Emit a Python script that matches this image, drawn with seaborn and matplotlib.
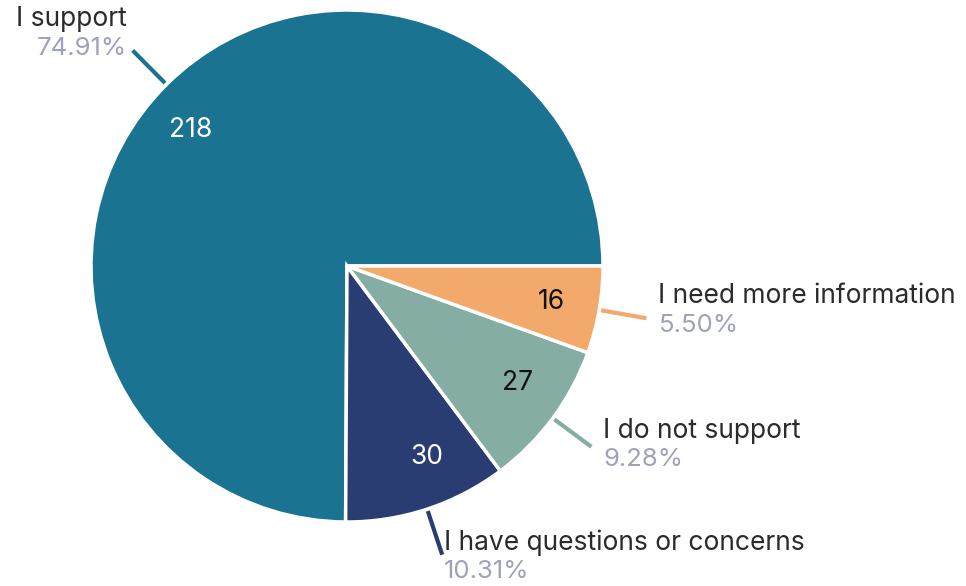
"""Survey response pie chart."""

import numpy as np
import matplotlib

matplotlib.use("Agg")

import matplotlib.pyplot as plt
import seaborn as sns

categories = [
    "I support",
    "I have questions or concerns",
    "I do not support",
    "I need more information",
]
counts = [218, 30, 27, 16]
percent_labels = ["74.91%", "10.31%", "9.28%", "5.50%"]
slice_colors = ["#1a7391", "#2a3d73", "#86ada3", "#f2a96b"]
count_colors = ["white", "white", "#111111", "#111111"]

sns.set_theme(style="white")
plt.rcParams["font.family"] = ["Inter", "DejaVu Sans"]

W, H = 966, 586
fig = plt.figure(figsize=(W / 100, H / 100), dpi=100)
ax = fig.add_axes([0, 0, 1, 1])

cx, cy, radius = 347, H - 266, 256
total = sum(counts)

wedges, _, autotexts = ax.pie(
    counts,
    colors=slice_colors,
    startangle=0,
    counterclock=True,
    radius=radius,
    center=(cx, cy),
    autopct=lambda p: f"{round(p * total / 100)}",
    pctdistance=0.81,
    wedgeprops={"edgecolor": "white", "linewidth": 2.5},
    textprops={"fontsize": 19},
)

# nudge the count labels a little around the circle, as in the original
count_shift = [4, 4.5, 2, 0]
for w, txt, col, shift in zip(wedges, autotexts, count_colors, count_shift):
    theta = np.deg2rad((w.theta1 + w.theta2) / 2 + shift)
    txt.set_position((cx + 0.81 * radius * np.cos(theta), cy + 0.81 * radius * np.sin(theta)))
    txt.set_color(col)

# leader lines + outside labels
label_dx = [-6, 2, 12, 12]
label_dy = [-16, 3, -1, -7]
for w, name, pct, dx, dy in zip(wedges, categories, percent_labels, label_dx, label_dy):
    theta = np.deg2rad((w.theta1 + w.theta2) / 2)
    x0, y0 = cx + (radius + 2) * np.cos(theta), cy + (radius + 2) * np.sin(theta)
    x1, y1 = cx + (radius + 48) * np.cos(theta), cy + (radius + 48) * np.sin(theta)
    ax.plot([x0, x1], [y0, y1], color=w.get_facecolor(), linewidth=3, solid_capstyle="butt")
    ha = "left" if np.cos(theta) > 0 else "right"
    tx = x1 + dx
    ymid = y1 - dy
    ax.text(tx, ymid + 15, name, ha=ha, va="center", fontsize=19, color="#2b2b2b")
    ax.text(tx, ymid - 14, pct, ha=ha, va="center", fontsize=18.5, color="#9fa2b8")

ax.set_xlim(0, W)
ax.set_ylim(0, H)
ax.set_aspect("equal")
ax.axis("off")

fig.savefig("out.png", dpi=100, facecolor="white")
plt.close(fig)
